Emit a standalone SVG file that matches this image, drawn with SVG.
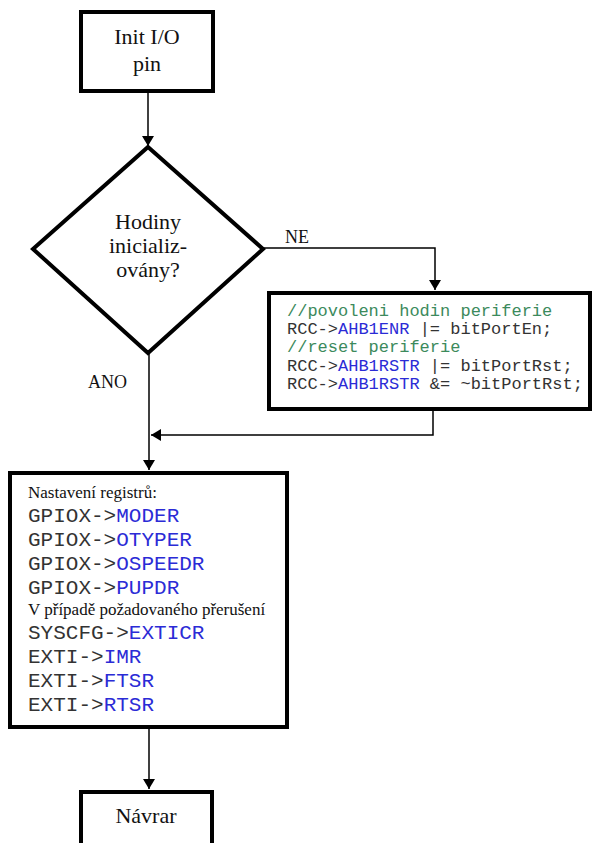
<svg xmlns="http://www.w3.org/2000/svg" width="593" height="843" viewBox="0 0 593 843">
  <defs>
    <marker id="arrow" viewBox="0 0 10 12" refX="10" refY="6" markerWidth="10" markerHeight="12" markerUnits="userSpaceOnUse" orient="auto">
      <path d="M0,0 L10,6 L0,12 Z" fill="#000"/>
    </marker>
    <style>
      .box { fill: #fff; stroke: #000; stroke-width: 4; }
      .edge { fill: none; stroke: #000; stroke-width: 1.5; }
      .serif { font-family: "Liberation Serif", "Times New Roman", serif; fill: #111; }
      .mono { font-family: "Liberation Mono", "Courier New", monospace; fill: #333; }
      .kw { fill: #2b2bd6; }
      .cm { fill: #3c8a5c; }
    </style>
  </defs>
  <rect width="593" height="843" fill="#fff"/>

  <g id="connectors">
    <line class="edge" x1="148" y1="92" x2="148" y2="146" marker-end="url(#arrow)"/>
    <polyline class="edge" points="263,248 435,248 435,290" marker-end="url(#arrow)"/>
    <line class="edge" x1="149" y1="353" x2="149" y2="470" marker-end="url(#arrow)"/>
    <polyline class="edge" points="433,411 433,435 151,435" marker-end="url(#arrow)"/>
    <line class="edge" x1="149" y1="728" x2="149" y2="789" marker-end="url(#arrow)"/>
    <text class="serif" x="285" y="243" font-size="18">NE</text>
    <text class="serif" x="88" y="388" font-size="18">ANO</text>
  </g>

  <g id="init">
    <rect class="box" x="81" y="12" width="132" height="79"/>
    <text class="serif" x="147" y="44" font-size="22" text-anchor="middle">Init I/O</text>
    <text class="serif" x="147" y="71" font-size="22" text-anchor="middle">pin</text>
  </g>

  <g id="decision">
    <polygon class="box" points="148,147 263,249 148,353 33,249"/>
    <text class="serif" x="148" y="229" font-size="22" text-anchor="middle">Hodiny</text>
    <text class="serif" x="148" y="253" font-size="22" text-anchor="middle">inicializ-</text>
    <text class="serif" x="148" y="277" font-size="22" text-anchor="middle">ovány?</text>
  </g>

  <g id="clock-init">
    <rect class="box" x="269" y="293" width="321" height="116"/>
    <text class="mono" x="287" y="316" font-size="17"><tspan class="cm">//povoleni hodin periferie</tspan></text>
    <text class="mono" x="287" y="334" font-size="17">RCC-&gt;<tspan class="kw">AHB1ENR</tspan> |= bitPortEn;</text>
    <text class="mono" x="287" y="352" font-size="17"><tspan class="cm">//reset periferie</tspan></text>
    <text class="mono" x="287" y="371" font-size="17">RCC-&gt;<tspan class="kw">AHB1RSTR</tspan> |= bitPortRst;</text>
    <text class="mono" x="287" y="389" font-size="17">RCC-&gt;<tspan class="kw">AHB1RSTR</tspan> &amp;= ~bitPortRst;</text>
  </g>

  <g id="registers">
    <rect class="box" x="10" y="473" width="277" height="254"/>
    <text class="serif" x="28" y="498" font-size="17">Nastavení registrů:</text>
    <text class="mono" x="28" y="522" font-size="21">GPIOX-&gt;<tspan class="kw">MODER</tspan></text>
    <text class="mono" x="28" y="546" font-size="21">GPIOX-&gt;<tspan class="kw">OTYPER</tspan></text>
    <text class="mono" x="28" y="570" font-size="21">GPIOX-&gt;<tspan class="kw">OSPEEDR</tspan></text>
    <text class="mono" x="28" y="594" font-size="21">GPIOX-&gt;<tspan class="kw">PUPDR</tspan></text>
    <text class="serif" x="28" y="615" font-size="17">V případě požadovaného přerušení</text>
    <text class="mono" x="28" y="639" font-size="21">SYSCFG-&gt;<tspan class="kw">EXTICR</tspan></text>
    <text class="mono" x="28" y="663" font-size="21">EXTI-&gt;<tspan class="kw">IMR</tspan></text>
    <text class="mono" x="28" y="687" font-size="21">EXTI-&gt;<tspan class="kw">FTSR</tspan></text>
    <text class="mono" x="28" y="711" font-size="21">EXTI-&gt;<tspan class="kw">RTSR</tspan></text>
  </g>

  <g id="return">
    <rect class="box" x="81" y="792" width="131" height="70"/>
    <text class="serif" x="146" y="823" font-size="22" text-anchor="middle">Návrar</text>
  </g>
</svg>
